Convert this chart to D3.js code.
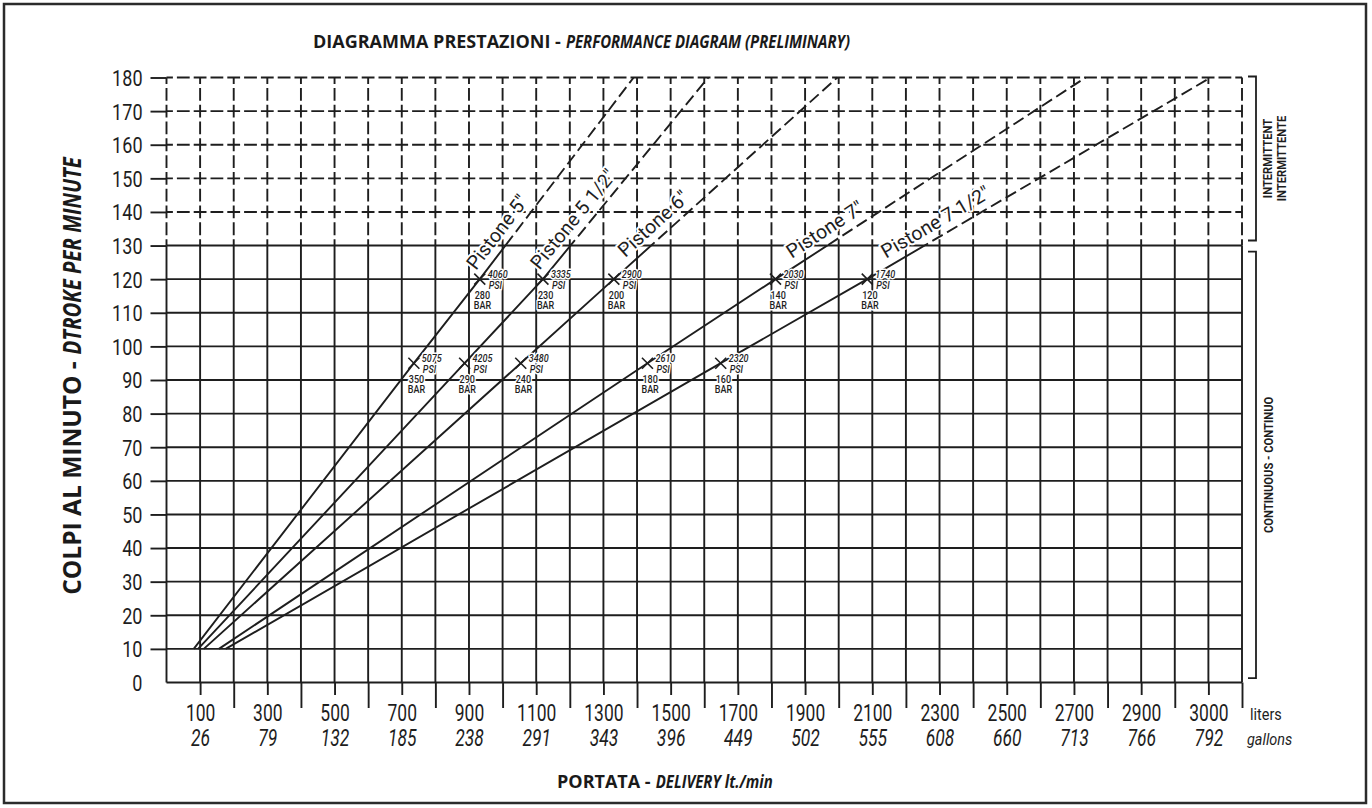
<!DOCTYPE html>
<html><head><meta charset="utf-8">
<script src="https://cdn.jsdelivr.net/npm/d3@7"></script>
<style>body{margin:0;background:#fff}svg{display:block}</style>
</head><body>
<svg id="c" width="1372" height="808"></svg>
<script>
// ---------- DATA ----------
const strokeLevels = [10, 95, 120, 180];            // colpi/min at which each piston line is read
const pistonNames  = ['Pistone 5"', 'Pistone 5 1/2"', 'Pistone 6"', 'Pistone 7"', 'Pistone 7 1/2"'];
const flow5   = [81, 736, 932, 1390];               // liters/min at strokeLevels
const flow55  = [94, 887, 1120, 1612];
const flow6   = [111, 1054, 1331, 1996];
const flow7   = [156, 1431, 1812, 2735];
const flow75  = [176, 1649, 2085, 3107];
const markerStrokes = [95, 120];
const bar5 = [350, 280], bar55 = [290, 230], bar6 = [240, 200], bar7 = [180, 140], bar75 = [160, 120];
const psi5 = [5075, 4060], psi55 = [4205, 3335], psi6 = [3480, 2900], psi7 = [2610, 2030], psi75 = [2320, 1740];
const labelStrokes = [121, 121, 124.5, 124, 124];   // stroke value where each piston name starts
const yTicks = [0,10,20,30,40,50,60,70,80,90,100,110,120,130,140,150,160,170,180];
const xTickLiters = [100,300,500,700,900,1100,1300,1500,1700,1900,2100,2300,2500,2700,2900,3100];
const literLabels = ["100","300","500","700","900","1100","1300","1500","1700","1900","2100","2300","2500","2700","2900","3000"];
const gallonLabels = ["26","79","132","185","238","291","343","396","449","502","555","608","660","713","766","792"];
const continuousRange = [1.3, 128.2];
const intermittentRange = [131.5, 180.3];
const flowMax = 3200, strokeMax = 180, dashFrom = 130;

// ---------- SETUP ----------
const W = 1372, H = 808, INK = '#1e1e1e';
const svg = d3.select('#c');
const x = d3.scaleLinear().domain([0, flowMax]).range([166.5, 1242]);
const y = d3.scaleLinear().domain([0, strokeMax]).range([682.5, 77.5]);
const TECH = "Roboto, 'DejaVu Sans', sans-serif";
const TITLE = "'Open Sans', 'Noto Sans', sans-serif";

svg.append('rect').attr('x', 4).attr('y', 4).attr('width', 1362).attr('height', 799)
  .attr('fill', 'none').attr('stroke', '#2b2b2b').attr('stroke-width', 2.5);

const defs = svg.append('defs');
defs.append('clipPath').attr('id', 'solidClip').append('rect')
  .attr('x', 0).attr('y', y(dashFrom)).attr('width', W).attr('height', H);
defs.append('clipPath').attr('id', 'dashClip').append('rect')
  .attr('x', 0).attr('y', 0).attr('width', W).attr('height', y(dashFrom));

// ---------- GRID ----------
const grid = svg.append('g').attr('stroke', INK).attr('stroke-width', 1.9).attr('fill', 'none');
const gridDash = '12.8,4';
const xGrid = d3.range(0, flowMax + 1, 100);
yTicks.forEach(v => {
  grid.append('line').attr('x1', x(0)).attr('x2', x(flowMax)).attr('y1', y(v)).attr('y2', y(v))
    .attr('stroke-dasharray', v > dashFrom ? gridDash : null)
    .attr('stroke-dashoffset', v > dashFrom ? 6.4 : null);
});
xGrid.forEach(L => {
  grid.append('line').attr('x1', x(L)).attr('x2', x(L)).attr('y1', y(0)).attr('y2', y(dashFrom));
  grid.append('line').attr('x1', x(L)).attr('x2', x(L)).attr('y1', y(dashFrom)).attr('y2', y(strokeMax))
    .attr('stroke-dasharray', gridDash).attr('stroke-dashoffset', 6.4);
});

function condense(sel, sx) {
  sel.each(function () {
    const t = d3.select(this);
    const xv = +t.attr('x') || 0;
    t.attr('x', xv / sx).attr('transform', `scale(${sx},1)`);
  });
}

// ---------- AXES ----------
const yAxis = svg.append('g').attr('transform', `translate(${x(0)},0)`)
  .call(d3.axisLeft(y).tickValues(yTicks).tickSize(16).tickPadding(8).tickFormat(d => d));
yAxis.select('.domain').remove();
yAxis.selectAll('.tick line').attr('stroke', INK).attr('stroke-width', 1.9)
  .attr('opacity', d => d === 0 ? 0 : 1);
yAxis.selectAll('.tick text').attr('fill', INK).attr('font-family', TECH).attr('font-size', 22)
  .attr('dy', '0.36em');
condense(yAxis.selectAll('.tick text'), 0.82);

const xAxis1 = svg.append('g').attr('transform', `translate(0,${y(0)})`)
  .call(d3.axisBottom(x).tickValues(xTickLiters).tickSize(12.5).tickFormat((d, i) => literLabels[i]));
xAxis1.select('.domain').remove();
xAxis1.selectAll('.tick line').attr('stroke', INK).attr('stroke-width', 1.9);
xAxis1.selectAll('.tick text').attr('fill', INK).attr('font-family', TECH).attr('font-size', 23)
  .attr('y', 38.8).attr('dy', 0);
condense(xAxis1.selectAll('.tick text'), 0.76);

const evenTicks = xGrid.filter(L => L > 0 && (L / 100) % 2 === 0);
const xAxisLong = svg.append('g').attr('transform', `translate(0,${y(0)})`)
  .call(d3.axisBottom(x).tickValues(evenTicks).tickSize(25.5).tickFormat(''));
xAxisLong.select('.domain').remove();
xAxisLong.selectAll('.tick line').attr('stroke', INK).attr('stroke-width', 1.9);

const xAxis2 = svg.append('g').attr('transform', `translate(0,${y(0)})`)
  .call(d3.axisBottom(x).tickValues(xTickLiters).tickSize(0).tickFormat((d, i) => gallonLabels[i]));
xAxis2.select('.domain').remove();
xAxis2.selectAll('.tick text').attr('fill', INK).attr('font-family', TECH).attr('font-size', 23)
  .attr('font-style', 'italic').attr('y', 63.8).attr('dy', 0);
condense(xAxis2.selectAll('.tick text'), 0.76);

const unitG = svg.append('g').attr('fill', INK).attr('font-family', TECH).attr('font-size', 17);
unitG.append('text').attr('x', (x(flowMax) + 8) / 0.85).attr('y', y(0) + 37.5)
  .attr('transform', 'scale(0.85,1)').text('liters');
unitG.append('text').attr('x', (x(flowMax) + 5) / 0.85).attr('y', y(0) + 62.5)
  .attr('transform', 'scale(0.85,1)').attr('font-style', 'italic').text('gallons');

// ---------- PISTON LINES ----------
const pistons = [
  { name: pistonNames[0], flow: flow5,  bar: bar5,  psi: psi5,  at: labelStrokes[0] },
  { name: pistonNames[1], flow: flow55, bar: bar55, psi: psi55, at: labelStrokes[1] },
  { name: pistonNames[2], flow: flow6,  bar: bar6,  psi: psi6,  at: labelStrokes[2] },
  { name: pistonNames[3], flow: flow7,  bar: bar7,  psi: psi7,  at: labelStrokes[3] },
  { name: pistonNames[4], flow: flow75, bar: bar75, psi: psi75, at: labelStrokes[4] },
];
const lineGen = d3.line().x(d => x(d[0])).y(d => y(d[1]));
const pl = svg.append('g').attr('fill', 'none').attr('stroke', INK).attr('stroke-width', 1.9);
pistons.forEach(p => {
  const pts = p.flow.map((f, i) => [f, strokeLevels[i]]);
  pl.append('path').attr('d', lineGen(pts)).attr('clip-path', 'url(#solidClip)');
  pl.append('path').attr('d', lineGen(pts)).attr('clip-path', 'url(#dashClip)')
    .attr('stroke-dasharray', '12,5');
});

// markers
const mk = svg.append('g').attr('stroke', INK).attr('stroke-width', 1.6);
const ann = svg.append('g').attr('fill', INK).attr('font-family', TECH).attr('font-size', 10.5)
  .attr('font-weight', 500).attr('stroke', '#fff').attr('stroke-width', 3)
  .attr('paint-order', 'stroke').attr('stroke-linejoin', 'round');
function annText(tx, ty, str, italic) {
  ann.append('text').attr('x', tx / 0.86).attr('y', ty).attr('transform', 'scale(0.86,1)')
    .attr('font-style', italic ? 'italic' : null).text(str);
}
pistons.forEach(p => {
  markerStrokes.forEach((s, i) => {
    const cx = x(p.flow[i + 1]), cy = y(s), r = 5.5;
    mk.append('line').attr('x1', cx - r).attr('y1', cy - r).attr('x2', cx + r).attr('y2', cy + r);
    mk.append('line').attr('x1', cx - r).attr('y1', cy + r).attr('x2', cx + r).attr('y2', cy - r);
  });
});
pistons.forEach(p => {
  markerStrokes.forEach((s, i) => {
    const cx = x(p.flow[i + 1]), cy = y(s);
    annText(cx + 8, cy - 1, String(p.psi[i]), true);
    annText(cx + 9, cy + 9.5, 'PSI', true);
    annText(cx - 5, cy + 20, String(p.bar[i]), false);
    annText(cx - 6, cy + 30, 'BAR', false);
  });
});

// piston names along the lines
const nameG = svg.append('g').attr('fill', INK).attr('font-family', TECH).attr('font-size', 19.5)
  .attr('stroke', '#fff').attr('stroke-width', 4).attr('paint-order', 'stroke').attr('stroke-linejoin', 'round')
  .style('white-space', 'pre');
pistons.forEach(p => {
  const f0 = p.flow[2], f1 = p.flow[3], s0 = strokeLevels[2], s1 = strokeLevels[3];
  const f = f0 + (p.at - s0) * (f1 - f0) / (s1 - s0);
  const px = x(f), py = y(p.at);
  const ang = Math.atan2(y(s1) - y(s0), x(f1) - x(f0)) * 180 / Math.PI;
  nameG.append('text').attr('transform', `translate(${px},${py}) rotate(${ang})`)
    .attr('x', 0).attr('y', -8).text(p.name);
});

// ---------- RIGHT BRACKETS ----------
const bx0 = x(flowMax) + 6, bx1 = x(flowMax) + 14;
const br = svg.append('g').attr('fill', 'none').attr('stroke', INK).attr('stroke-width', 1.8);
[intermittentRange, continuousRange].forEach(r => {
  br.append('path').attr('d', `M${bx0},${y(r[1])}H${bx1}V${y(r[0])}H${bx0}`);
});
const bt = svg.append('g').attr('fill', INK).attr('font-family', TECH).attr('font-size', 13.5)
  .attr('font-weight', 700).attr('text-anchor', 'middle');
const midI = y((intermittentRange[0] + intermittentRange[1]) / 2);
const midC = y((continuousRange[0] + continuousRange[1]) / 2);
bt.append('text').attr('transform', `translate(${bx1 + 16},${midI}) rotate(-90) scale(0.83,1)`).text('INTERMITTENT');
bt.append('text').attr('transform', `translate(${bx1 + 30},${midI}) rotate(-90) scale(0.83,1)`).text('INTERMITTENTE');
bt.append('text').attr('transform', `translate(${bx1 + 17},${midC}) rotate(-90) scale(0.83,1)`).text('CONTINUOUS - CONTINUO');

// ---------- TITLES ----------
// two-part title: upright bold + narrower bold italic, laid out along a baseline
function twoPart(g, a, b, size, sb, dy) {
  const ta = g.append('text').attr('x', 0).attr('y', 0).attr('dy', dy)
    .attr('font-family', TITLE).attr('font-weight', 700).attr('font-size', size).attr('fill', '#1a1a1a').text(a);
  const la = ta.node().getComputedTextLength() + size * 0.28;   // + word space after the dash
  const tb = g.append('text').attr('x', la / sb).attr('y', 0).attr('dy', dy).attr('transform', `scale(${sb},1)`)
    .attr('font-family', TITLE).attr('font-weight', 700).attr('font-style', 'italic')
    .attr('font-size', size).attr('fill', '#1a1a1a').text(b);
  return la + tb.node().getComputedTextLength() * sb;
}
twoPart(svg.append('g').attr('transform', 'translate(313,48)'),
  'DIAGRAMMA PRESTAZIONI -', 'PERFORMANCE DIAGRAM (PRELIMINARY)', 18, 0.83, 0);
twoPart(svg.append('g').attr('transform', 'translate(557,788)'),
  'PORTATA -', 'DELIVERY lt./min', 18, 0.83, 0);
const yTitle = svg.append('g');
const yLen = twoPart(yTitle, 'COLPI AL MINUTO -', 'DTROKE PER MINUTE', 24.5, 0.83, '0.36em');
yTitle.attr('transform', `translate(72,${376 + yLen / 2}) rotate(-90)`);
</script>
</body></html>
